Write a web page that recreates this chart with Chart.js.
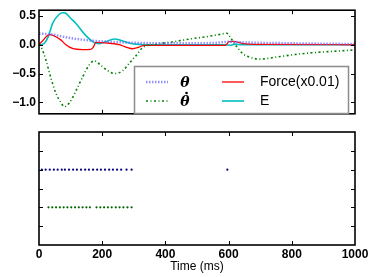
<!DOCTYPE html>
<html>
<head>
<meta charset="utf-8">
<script src="https://cdn.jsdelivr.net/npm/chart.js@4.4.0/dist/chart.umd.min.js"></script>
<style>
  html, body { margin: 0; padding: 0; background: #fff; }
  #wrap { position: relative; width: 374px; height: 277px; }
  #topChart { position: absolute; left: 0; top: 0; }
  #botChart { position: absolute; left: 0; top: 126px; }
</style>
</head>
<body>
<div id="wrap">
  <canvas id="topChart" width="374" height="124"></canvas>
  <canvas id="botChart" width="374" height="151"></canvas>
</div>
<script>
// ===== Data (time in ms) =====
const thetaT = [0, 30, 100, 170, 250, 330, 450, 550, 600, 650, 800, 1000];
const thetaV = [0.19, 0.185, 0.115, 0.07, 0.045, 0.03, 0.025, 0.03, 0.05, 0.04, 0.025, 0.012];

const dthetaT = [0, 6, 22, 38, 54, 70, 80, 96, 117, 138, 159, 175, 196, 217, 240, 265, 286, 307, 328, 372, 424, 478, 530, 573, 594, 609, 625, 646, 668, 700, 756, 810, 863, 915, 1000];
const dthetaV = [0, -0.03, -0.27, -0.585, -0.85, -1.01, -1.075, -1.01, -0.8, -0.56, -0.35, -0.28, -0.36, -0.45, -0.5, -0.45, -0.32, -0.19, -0.05, 0.01, 0.05, 0.1, 0.14, 0.18, 0.2, 0.1, -0.03, -0.16, -0.22, -0.25, -0.21, -0.17, -0.14, -0.12, -0.09];

const forceT = [0, 10, 33, 46, 70, 85, 106, 138, 164, 172, 180, 217, 254, 275, 296, 317, 333, 400, 590, 600, 612, 646, 700, 1000];
const forceV = [0, 0.06, 0.175, 0.16, 0.08, 0.0, -0.065, -0.085, -0.08, -0.04, 0.04, 0.03, 0, -0.04, -0.07, -0.04, -0.01, -0.01, -0.01, 0.05, 0.06, 0.02, 0.005, 0];

const energyT = [0, 10, 17, 30, 43, 64, 75, 83, 100, 117, 148, 180, 191, 210, 238, 260, 285, 306, 350, 590, 605, 620, 640, 1000];
const energyV = [0, 0.005, 0.025, 0.15, 0.37, 0.53, 0.555, 0.55, 0.46, 0.37, 0.16, 0.025, 0.02, 0.05, 0.1, 0.075, 0.03, 0.01, 0, 0, -0.01, 0.01, 0, 0];

// spike raster
const blueSpikes = [9, 21, 34, 47, 59, 72, 82, 95, 108, 120, 133, 146, 158, 171, 184, 196, 209, 222, 234, 247, 260, 277, 293, 596];
const greenSpikes = [30, 42, 54, 66, 78, 90, 102, 114, 126, 138, 150, 161, 182, 194, 206, 218, 230, 243, 255, 267, 280, 293];
const blueRow = 4, greenRow = 2;

const xTickVals = [0, 200, 400, 600, 800, 1000];
const yTickVals = [-1, -0.5, 0, 0.5];
const rasterTickVals = [1, 2, 3, 4, 5];

const pts = (t, v) => t.map((x, i) => ({ x, y: v[i] }));
const fmt = v => (v < 0 ? '\u2212' : '') + Math.abs(v).toFixed(1);

// inward ticks + black frame, matplotlib style
const frameTicks = {
  id: 'frameTicks',
  afterDatasetsDraw(chart, args, opts) {
    const { ctx, chartArea: a, scales } = chart;
    ctx.save();
    ctx.strokeStyle = '#000';
    ctx.lineWidth = 1;
    const seg = (x1, y1, x2, y2) => { ctx.beginPath(); ctx.moveTo(x1, y1); ctx.lineTo(x2, y2); ctx.stroke(); };
    opts.xt.forEach(v => {
      const px = Math.round(scales.x.getPixelForValue(v)) + 0.5;
      seg(px, a.bottom, px, a.bottom - 4);
      seg(px, a.top, px, a.top + 4);
    });
    opts.yt.forEach(v => {
      const py = Math.round(scales.y.getPixelForValue(v)) + 0.5;
      seg(a.left, py, a.left + 4, py);
      seg(a.right, py, a.right - 4, py);
    });
    ctx.lineWidth = 1.6;
    ctx.strokeRect(a.left, a.top, a.right - a.left, a.bottom - a.top);
    ctx.restore();
  }
};

// legend box inside the upper plot
const legendBox = {
  id: 'legendBox',
  afterDraw(chart) {
    const ctx = chart.ctx;
    const ds = chart.data.datasets;
    ctx.save();
    ctx.fillStyle = '#fff';
    ctx.strokeStyle = '#8c8c8c';
    ctx.lineWidth = 1.5;
    ctx.fillRect(134.5, 66.5, 214, 47);
    ctx.strokeRect(134.5, 66.5, 214, 47);
    const items = [
      [ds[0], 146, 82, '\u03b8', 1],
      [ds[1], 146, 101, '\u03b8', 2],
      [ds[2], 222, 82, 'Force(x0.01)', 0],
      [ds[3], 222, 101, 'E', 0],
    ];
    items.forEach(([d, x, y, txt, sym]) => {
      ctx.strokeStyle = d.borderColor;
      ctx.lineWidth = d.borderWidth;
      ctx.setLineDash(d.borderDash || []);
      ctx.beginPath(); ctx.moveTo(x, y); ctx.lineTo(x + 22, y); ctx.stroke();
      ctx.setLineDash([]);
      ctx.fillStyle = '#000';
      ctx.textBaseline = 'middle';
      if (sym) {
        ctx.font = 'bold italic 14px "DejaVu Serif"';
        ctx.textAlign = 'center';
        ctx.fillText(txt, 185, y + 1);
        if (sym === 2) {
          // dot accent of theta-dot
          ctx.beginPath(); ctx.arc(186.5, y - 8, 1.3, 0, Math.PI * 2); ctx.fill();
        }
      } else {
        ctx.font = '14px "Liberation Sans"';
        ctx.textAlign = 'left';
        ctx.fillText(txt, 260, y);
      }
    });
    ctx.restore();
  }
};

const tickFont = { family: 'Liberation Sans', size: 12, weight: 'bold' };

new Chart(document.getElementById('topChart'), {
  type: 'line',
  data: {
    datasets: [
      { label: '\u03b8', data: pts(thetaT, thetaV), borderColor: 'rgba(110,110,255,0.75)', borderWidth: 2.5, borderDash: [1.5, 1.5], cubicInterpolationMode: 'monotone' },
      { label: '\u03b8\u0307', data: pts(dthetaT, dthetaV), borderColor: '#008000', borderWidth: 1.6, borderDash: [2, 2.5, 1, 2.5], cubicInterpolationMode: 'monotone' },
      { label: 'Force(x0.01)', data: pts(forceT, forceV), borderColor: '#ff0000', borderWidth: 1.3, cubicInterpolationMode: 'monotone' },
      { label: 'E', data: pts(energyT, energyV), borderColor: '#00bfbf', borderWidth: 1.6, cubicInterpolationMode: 'monotone' },
    ]
  },
  options: {
    responsive: false, animation: false, devicePixelRatio: 1,
    layout: { padding: { top: 5, right: 19, left: 0, bottom: 0 } },
    elements: { point: { radius: 0 } },
    plugins: { legend: { display: false }, tooltip: { enabled: false }, frameTicks: { xt: [200, 400, 600, 800], yt: yTickVals } },
    scales: {
      x: {
        type: 'linear', min: 0, max: 1000,
        ticks: { display: false, stepSize: 200 },
        grid: { display: false, drawTicks: false }, border: { display: false },
        afterFit: s => { s.height = 4; }
      },
      y: {
        min: -1.2, max: 0.6,
        afterBuildTicks: s => { s.ticks = yTickVals.map(v => ({ value: v })); },
        ticks: { callback: v => fmt(v), color: '#000', font: tickFont, padding: 3 },
        grid: { display: false, drawTicks: false }, border: { display: false },
        afterFit: s => { s.width = 39; }
      }
    }
  },
  plugins: [frameTicks, legendBox]
});

new Chart(document.getElementById('botChart'), {
  type: 'scatter',
  data: {
    datasets: [
      { data: blueSpikes.map(t => ({ x: t, y: blueRow })), backgroundColor: '#000080', pointRadius: 1.1, borderWidth: 0 },
      { data: greenSpikes.map(t => ({ x: t, y: greenRow })), backgroundColor: '#006400', pointRadius: 1.1, borderWidth: 0 },
    ]
  },
  options: {
    responsive: false, animation: false, devicePixelRatio: 1,
    layout: { padding: { top: 6, right: 19, left: 0, bottom: 0 } },
    plugins: { legend: { display: false }, tooltip: { enabled: false }, frameTicks: { xt: [200, 400, 600, 800], yt: rasterTickVals } },
    scales: {
      x: {
        type: 'linear', min: 0, max: 1000,
        afterBuildTicks: s => { s.ticks = xTickVals.map(v => ({ value: v })); },
        ticks: { callback: v => String(v), color: '#000', font: tickFont, padding: 2, maxRotation: 0 },
        grid: { display: false, drawTicks: false }, border: { display: false },
        title: { display: true, text: 'Time (ms)', color: '#000', font: { family: 'Liberation Sans', size: 12 }, padding: { top: 0, bottom: 3 } },
        afterFit: s => { s.height = 32; }
      },
      y: {
        min: 0, max: 6,
        ticks: { display: false, stepSize: 1 },
        grid: { display: false, drawTicks: false }, border: { display: false },
        afterFit: s => { s.width = 39; }
      }
    }
  },
  plugins: [frameTicks]
});
</script>
</body>
</html>
